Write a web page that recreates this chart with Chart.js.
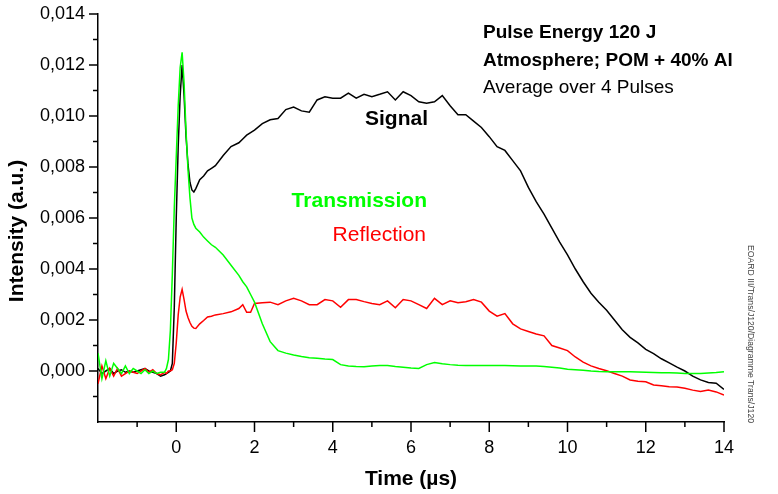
<!DOCTYPE html>
<html>
<head>
<meta charset="utf-8">
<script src="https://cdn.jsdelivr.net/npm/chart.js@4/dist/chart.umd.min.js"></script>
<style>
  html, body { margin: 0; padding: 0; background: #ffffff; }
  #wrap { width: 778px; height: 494px; }
</style>
</head>
<body>
<div id="wrap"><canvas id="c" width="778" height="494"></canvas></div>
<script>
// ---- Data (time in µs, intensity in a.u.) ----
const time = [
  -2.0, -1.9, -1.8, -1.7, -1.6, -1.5, -1.4, -1.3, -1.2, -1.1, -1.0, -0.9, -0.8, -0.7, -0.6, -0.5, -0.4, -0.3,
  -0.25, -0.2, -0.15, -0.1, -0.05, 0.0, 0.05, 0.1, 0.15, 0.2, 0.25, 0.3, 0.35, 0.4, 0.45, 0.5,
  0.6, 0.7, 0.8, 0.9, 1.0, 1.2, 1.4, 1.6, 1.7, 1.8, 1.9, 2.0, 2.2, 2.4, 2.6, 2.8, 3.0,
  3.2, 3.4, 3.6, 3.8, 4.0, 4.2, 4.4, 4.6, 4.8, 5.0, 5.2, 5.4, 5.6, 5.8, 6.0,
  6.2, 6.4, 6.6, 6.8, 7.0, 7.2, 7.4, 7.6, 7.8, 8.0, 8.2, 8.4, 8.6, 8.8, 9.0,
  9.2, 9.4, 9.6, 9.8, 10.0, 10.2, 10.4, 10.6, 10.8, 11.0, 11.2, 11.4, 11.6, 11.8, 12.0,
  12.2, 12.4, 12.6, 12.8, 13.0, 13.2, 13.4, 13.6, 13.8, 14.0
];
const signal = [
  0.00010, -0.00010, 0.00000, 0.00010, -0.00010, 0.00000, 0.00005, -0.00005, 0.00000, -0.00005, 0.00000, 0.00005, 0.00010, 0.00000, -0.00005, -0.00010, -0.00020, -0.00015,
  -0.00010, -0.00005, 0.00000, 0.00030, 0.00250, 0.00600, 0.00880, 0.01080, 0.01200, 0.01080, 0.00920, 0.00810, 0.00740, 0.00710, 0.00702, 0.00715,
  0.00750, 0.00765, 0.00785, 0.00795, 0.00805, 0.00845, 0.00880, 0.00895, 0.00910, 0.00925, 0.00935, 0.00945, 0.00970, 0.00985, 0.00990, 0.01025, 0.01035,
  0.01020, 0.01015, 0.01063, 0.01075, 0.01070, 0.01070, 0.01090, 0.01070, 0.01085, 0.01076, 0.01085, 0.01095, 0.01063, 0.01095, 0.01080,
  0.01056, 0.01050, 0.01056, 0.01080, 0.01040, 0.01005, 0.01005, 0.00980, 0.00955, 0.00919, 0.00880, 0.00865, 0.00825, 0.00785, 0.00720,
  0.00664, 0.00615, 0.00560, 0.00505, 0.00455, 0.00400, 0.00350, 0.00305, 0.00270, 0.00238, 0.00200, 0.00162, 0.00132, 0.00110, 0.00085,
  0.00068, 0.00048, 0.00032, 0.00015, 0.00000, -0.00020, -0.00035, -0.00045, -0.00048, -0.00072
];
const transmission = [
  0.00070, -0.00030, 0.00040, -0.00020, 0.00030, 0.00010, -0.00010, 0.00020, -0.00010, 0.00010, 0.00000, -0.00010, 0.00005, -0.00010, 0.00000, -0.00010, -0.00005, -0.00005,
  0.00010, 0.00045, 0.00160, 0.00380, 0.00640, 0.00840, 0.01040, 0.01190, 0.01250, 0.01130, 0.00940, 0.00790, 0.00680, 0.00600, 0.00575, 0.00560,
  0.00545, 0.00525, 0.00510, 0.00495, 0.00485, 0.00455, 0.00415, 0.00375, 0.00350, 0.00330, 0.00300, 0.00270, 0.00185, 0.00115, 0.00080, 0.00070, 0.00063,
  0.00057, 0.00052, 0.00050, 0.00047, 0.00045, 0.00025, 0.00020, 0.00018, 0.00017, 0.00020, 0.00022, 0.00022, 0.00018, 0.00015, 0.00012,
  0.00010, 0.00025, 0.00033, 0.00028, 0.00025, 0.00023, 0.00022, 0.00022, 0.00022, 0.00022, 0.00022, 0.00022, 0.00021, 0.00020, 0.00020,
  0.00020, 0.00018, 0.00015, 0.00012, 0.00007, 0.00005, 0.00003, 0.00000, -0.00002, -0.00003, -0.00003, -0.00003, -0.00003, -0.00004, -0.00005,
  -0.00006, -0.00007, -0.00007, -0.00008, -0.00010, -0.00010, -0.00010, -0.00008, -0.00006, -0.00003
];
const reflection = [
  -0.00050, 0.00020, -0.00030, 0.00010, -0.00020, 0.00010, -0.00020, -0.00010, 0.00000, -0.00005, -0.00010, 0.00000, 0.00010, -0.00005, 0.00005, -0.00010, -0.00015, -0.00005,
  -0.00010, 0.00000, 0.00000, 0.00005, 0.00030, 0.00110, 0.00220, 0.00290, 0.00320, 0.00280, 0.00235, 0.00210, 0.00190, 0.00175, 0.00168, 0.00167,
  0.00185, 0.00198, 0.00212, 0.00215, 0.00220, 0.00225, 0.00232, 0.00245, 0.00260, 0.00230, 0.00230, 0.00265, 0.00268, 0.00270, 0.00260, 0.00275, 0.00285,
  0.00275, 0.00260, 0.00260, 0.00280, 0.00275, 0.00250, 0.00280, 0.00280, 0.00272, 0.00265, 0.00260, 0.00275, 0.00248, 0.00280, 0.00275,
  0.00260, 0.00245, 0.00285, 0.00260, 0.00275, 0.00268, 0.00272, 0.00280, 0.00270, 0.00235, 0.00215, 0.00225, 0.00185, 0.00165, 0.00155,
  0.00145, 0.00138, 0.00100, 0.00090, 0.00080, 0.00055, 0.00035, 0.00020, 0.00010, 0.00001, -0.00010, -0.00020, -0.00035, -0.00040, -0.00042,
  -0.00055, -0.00058, -0.00062, -0.00063, -0.00068, -0.00075, -0.00080, -0.00075, -0.00082, -0.00094
];

// Axis tick values
const xMajorTicks = [0, 2, 4, 6, 8, 10, 12, 14];
const xMinorTicks = [-1, 1, 3, 5, 7, 9, 11, 13];
const yMajorTicks = [0.000, 0.002, 0.004, 0.006, 0.008, 0.010, 0.012, 0.014];
const yMinorTicks = [-0.001, 0.001, 0.003, 0.005, 0.007, 0.009, 0.011, 0.013];

// Texts
const xTitle = 'Time (µs)';
const yTitle = 'Intensity (a.u.)';
const infoLines = ['Pulse Energy 120 J', 'Atmosphere; POM + 40% Al', 'Average over 4 Pulses'];
const sideNote = 'EOARD III/Trans/J120/Diagramme Trans/J120';

const FONT = '"Liberation Sans", Arial, sans-serif';

const pts = (vals) => time.map((t, i) => ({ x: t, y: vals[i] }));

const decorPlugin = {
  id: 'decor',
  afterDraw(chart) {
    const ctx = chart.ctx;
    const xs = chart.scales.x, ys = chart.scales.y;
    const area = chart.chartArea;
    ctx.save();
    ctx.strokeStyle = '#000';
    ctx.lineWidth = 1.5;
    // x ticks
    const xb = area.bottom;
    xMajorTicks.forEach(v => { const p = xs.getPixelForValue(v); ctx.beginPath(); ctx.moveTo(p, xb); ctx.lineTo(p, xb + 10); ctx.stroke(); });
    xMinorTicks.forEach(v => { const p = xs.getPixelForValue(v); ctx.beginPath(); ctx.moveTo(p, xb); ctx.lineTo(p, xb + 5); ctx.stroke(); });
    // y ticks
    const yl = area.left;
    yMajorTicks.forEach(v => { const p = ys.getPixelForValue(v); ctx.beginPath(); ctx.moveTo(yl, p); ctx.lineTo(yl - 9, p); ctx.stroke(); });
    yMinorTicks.forEach(v => { const p = ys.getPixelForValue(v); ctx.beginPath(); ctx.moveTo(yl, p); ctx.lineTo(yl - 5, p); ctx.stroke(); });

    // y title
    ctx.fillStyle = '#000';
    ctx.save();
    ctx.translate(23, 231);
    ctx.rotate(-Math.PI / 2);
    ctx.textAlign = 'center';
    ctx.textBaseline = 'alphabetic';
    ctx.font = 'bold 21px ' + FONT;
    ctx.fillText(yTitle, 0, 0);
    ctx.restore();

    // info block
    ctx.textAlign = 'left';
    ctx.textBaseline = 'alphabetic';
    ctx.font = 'bold 19px ' + FONT;
    ctx.fillText(infoLines[0], 483, 38);
    ctx.fillText(infoLines[1], 483, 66);
    ctx.font = '19px ' + FONT;
    ctx.fillText(infoLines[2], 483, 93);

    // series labels
    ctx.textAlign = 'right';
    ctx.font = 'bold 21px ' + FONT;
    ctx.fillStyle = '#000000';
    ctx.fillText('Signal', 428, 125);
    ctx.fillStyle = '#00ff00';
    ctx.fillText('Transmission', 427, 207);
    ctx.font = '21px ' + FONT;
    ctx.fillStyle = '#ff0000';
    ctx.fillText('Reflection', 426, 241);

    // side note
    ctx.save();
    ctx.translate(748, 245);
    ctx.rotate(Math.PI / 2);
    ctx.textAlign = 'left';
    ctx.textBaseline = 'alphabetic';
    ctx.font = '9px ' + FONT;
    ctx.fillStyle = '#444';
    ctx.fillText(sideNote, 0, 0, 178);
    ctx.restore();

    ctx.restore();
  }
};

new Chart(document.getElementById('c'), {
  type: 'line',
  data: {
    datasets: [
      { label: 'Transmission', data: pts(transmission), borderColor: '#00ff00', borderWidth: 1.5, pointRadius: 0, tension: 0, fill: false },
      { label: 'Reflection', data: pts(reflection), borderColor: '#ff0000', borderWidth: 1.5, pointRadius: 0, tension: 0, fill: false },
      { label: 'Signal', data: pts(signal), borderColor: '#000000', borderWidth: 1.5, pointRadius: 0, tension: 0, fill: false }
    ]
  },
  options: {
    responsive: false,
    animation: false,
    devicePixelRatio: 1,
    layout: { padding: { left: 0, right: 54, top: 14, bottom: 0 } },
    plugins: { legend: { display: false }, tooltip: { enabled: false }, title: { display: false } },
    scales: {
      x: {
        type: 'linear',
        min: -2, max: 14,
        grid: { display: false, drawTicks: true, tickLength: 15 },
        border: { display: true, color: '#000', width: 1.5 },
        ticks: {
          stepSize: 2, padding: 0, color: '#000', maxRotation: 0, autoSkip: false,
          font: { family: FONT, size: 18 },
          callback: (v) => (v < -1 ? '' : String(v))
        },
        title: { display: true, text: xTitle, color: '#000', font: { family: FONT, size: 21, weight: 'bold' }, padding: { top: 0, bottom: 2 } },
        afterFit: (s) => { s.height = 72; }
      },
      y: {
        type: 'linear',
        min: -0.002, max: 0.014,
        grid: { display: false, drawTicks: true, tickLength: 13 },
        border: { display: true, color: '#000', width: 1.5 },
        ticks: {
          stepSize: 0.002, padding: 0, color: '#000', autoSkip: false,
          font: { family: FONT, size: 18 },
          callback: (v) => (v < -0.0005 ? '' : Number(v).toFixed(3).replace('.', ','))
        },
        afterFit: (s) => { s.width = 98; }
      }
    }
  },
  plugins: [decorPlugin]
});
</script>
</body>
</html>
